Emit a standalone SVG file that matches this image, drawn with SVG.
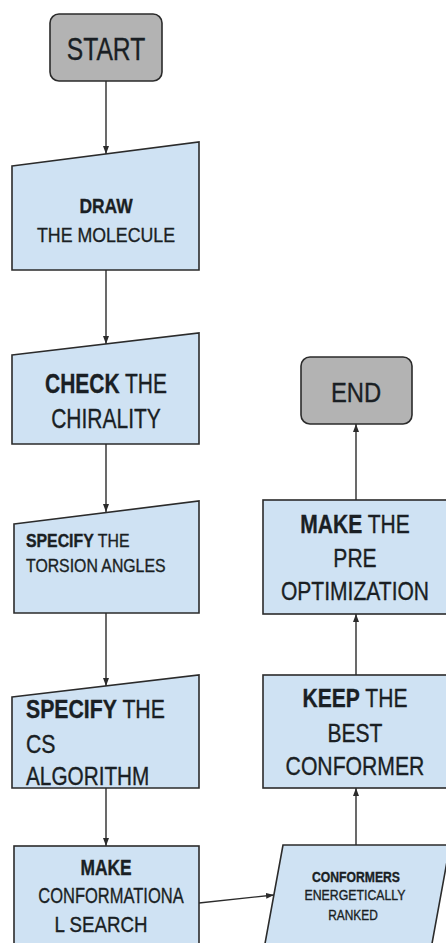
<svg xmlns="http://www.w3.org/2000/svg" width="446" height="943" viewBox="0 0 446 943">
<style>
.bg{fill:#ffffff}
.term{fill:#b3b3b3;stroke:#2b2b2b;stroke-width:1.6}
.box{fill:#cfe2f3;stroke:#2b2b2b;stroke-width:1.6}
text{font-family:"Liberation Sans",Arial,sans-serif;fill:#1a1f24;stroke:#1a1f24;stroke-width:0.35}
.c{text-anchor:middle}
.b{font-weight:bold}
.edge{fill:none;stroke:#2b2b2b;stroke-width:1.4;marker-end:url(#ah)}
</style>
<defs>
<marker id="ah" markerUnits="userSpaceOnUse" markerWidth="8" markerHeight="7" refX="8" refY="3" orient="auto">
<path d="M0,0 L8,3 L0,6 z" fill="#2b2b2b"/>
</marker>
</defs>
<rect class="bg" x="0" y="0" width="446" height="943"/>

<g id="connectors">
<path class="edge" d="M106,81 L106,154"/>
<path class="edge" d="M106,270 L106,344"/>
<path class="edge" d="M106,444 L106,512"/>
<path class="edge" d="M106,613 L106,686"/>
<path class="edge" d="M106,788 L106,846"/>
<path class="edge" d="M199,903 L274,895"/>
<path class="edge" d="M356,845 L356,788"/>
<path class="edge" d="M356,675 L356,614"/>
<path class="edge" d="M356,500 L356,424"/>
</g>

<g id="start">
<rect class="term" x="50" y="14" width="112" height="67" rx="9"/>
<text class="c" font-size="32" transform="translate(106,60) scale(0.77,1)">START</text>
</g>

<g id="draw">
<polygon class="box" points="12,166 199,142 199,270 12,270"/>
<text class="c b" font-size="21" transform="translate(106,213) scale(0.83,1)">DRAW</text>
<text class="c" font-size="21" transform="translate(106,242) scale(0.845,1)">THE MOLECULE</text>
</g>

<g id="check">
<polygon class="box" points="12,355 199,333 199,444 12,444"/>
<text class="c" font-size="28" transform="translate(106,393) scale(0.75,1)"><tspan class="b">CHECK</tspan> THE</text>
<text class="c" font-size="28" transform="translate(106,428) scale(0.75,1)">CHIRALITY</text>
</g>

<g id="torsion">
<polygon class="box" points="14,524 199,501 199,613 14,613"/>
<text font-size="18" transform="translate(26,547) scale(0.88,1)"><tspan class="b">SPECIFY</tspan> THE</text>
<text font-size="18" transform="translate(26,572) scale(0.88,1)">TORSION ANGLES</text>
</g>

<g id="algorithm">
<polygon class="box" points="12,697 199,675 199,788 12,788"/>
<text font-size="25" transform="translate(26,718) scale(0.85,1)"><tspan class="b">SPECIFY</tspan> THE</text>
<text font-size="25" transform="translate(26,753) scale(0.85,1)">CS</text>
<text font-size="25" transform="translate(26,785) scale(0.83,1)">ALGORITHM</text>
</g>

<g id="search">
<rect class="box" x="14" y="846" width="185" height="110"/>
<text class="c b" font-size="22" transform="translate(106,875) scale(0.79,1)">MAKE</text>
<text class="c" font-size="22" transform="translate(111,903) scale(0.75,1)">CONFORMATIONA</text>
<text class="c" font-size="22" transform="translate(101,932) scale(0.85,1)">L SEARCH</text>
</g>

<g id="ranked">
<polygon class="box" points="283,845 450,845 429,960 262,960"/>
<text class="c b" font-size="14" transform="translate(356,882) scale(0.87,1)">CONFORMERS</text>
<text class="c" font-size="14" transform="translate(355,900) scale(0.88,1)">ENERGETICALLY</text>
<text class="c" font-size="14" transform="translate(353,920) scale(0.85,1)">RANKED</text>
</g>

<g id="keep">
<rect class="box" x="263" y="675" width="186" height="113"/>
<text class="c" font-size="26" transform="translate(355,707) scale(0.81,1)"><tspan class="b">KEEP</tspan> THE</text>
<text class="c" font-size="26" transform="translate(355,742) scale(0.81,1)">BEST</text>
<text class="c" font-size="26" transform="translate(355,775) scale(0.815,1)">CONFORMER</text>
</g>

<g id="preopt">
<rect class="box" x="263" y="500" width="186" height="114"/>
<text class="c" font-size="26" transform="translate(355,533) scale(0.81,1)"><tspan class="b">MAKE</tspan> THE</text>
<text class="c" font-size="26" transform="translate(355,567) scale(0.81,1)">PRE</text>
<text class="c" font-size="26" transform="translate(355,600) scale(0.81,1)">OPTIMIZATION</text>
</g>

<g id="end">
<rect class="term" x="301" y="357" width="111" height="67" rx="9"/>
<text class="c" font-size="28" transform="translate(356,402) scale(0.85,1)">END</text>
</g>
</svg>
